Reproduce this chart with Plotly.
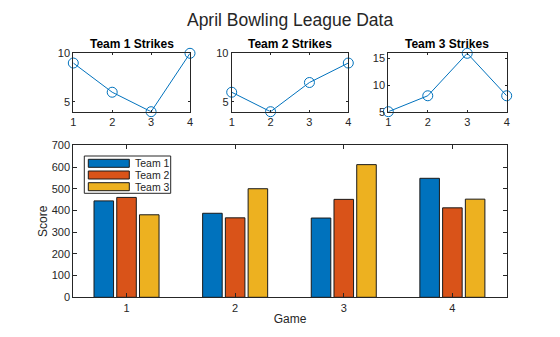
import plotly.graph_objects as go

# Bowling league data for April
games = [1, 2, 3, 4]
teams = ["Team 1", "Team 2", "Team 3"]
team1_scores = [444, 387, 365, 548]
team2_scores = [460, 366, 451, 412]
team3_scores = [380, 500, 611, 452]
team1_strikes = [9, 6, 4, 10]
team2_strikes = [6, 4, 7, 9]
team3_strikes = [5, 8, 16, 8]
score_ticks = [0, 100, 200, 300, 400, 500, 600, 700]

colors = ["#0072BD", "#D95319", "#EDB120"]
ink = "#262626"
font_family = "Liberation Sans, Arial, sans-serif"

W, H = 560, 337


def px_x(p):
    return p / W


def px_y(p):
    return 1 - p / H


fig = go.Figure()

# Strike line plots (top row)
strikes = [team1_strikes, team2_strikes, team3_strikes]
sub_x = [(73.3, 190.0), (231.7, 348.3), (388.3, 506.7)]
sub_y = (53.3, 111.7)
sub_yranges = [(4, 10), (4, 10), (5, 16)]
sub_yticks = [[5, 10], [5, 10], [5, 10, 15]]

axis_common = dict(
    showline=True, linecolor=ink, linewidth=1, mirror="allticks",
    ticks="inside", tickcolor=ink, showgrid=False, zeroline=False,
    automargin=False,
    tickfont=dict(size=11, color=ink, family=font_family),
)

for i, (name, s) in enumerate(zip(teams, strikes)):
    k = i + 2
    fig.add_trace(go.Scatter(
        x=games, y=s, mode="lines+markers",
        line=dict(color=colors[0], width=1),
        marker=dict(symbol="circle-open", size=10, color=colors[0], line=dict(width=1)),
        xaxis=f"x{k}", yaxis=f"y{k}", showlegend=False, cliponaxis=False,
    ))
    fig.layout[f"xaxis{k}"] = dict(
        axis_common, domain=[px_x(sub_x[i][0]), px_x(sub_x[i][1])],
        range=[1, 4], tickvals=games, ticklen=2, anchor=f"y{k}",
    )
    fig.layout[f"yaxis{k}"] = dict(
        axis_common, domain=[px_y(sub_y[1]), px_y(sub_y[0])],
        range=list(sub_yranges[i]), tickvals=sub_yticks[i], ticklen=2,
        anchor=f"x{k}",
    )
    fig.add_annotation(
        text=f"<b>{name} Strikes</b>", showarrow=False,
        x=(px_x(sub_x[i][0]) + px_x(sub_x[i][1])) / 2, y=px_y(sub_y[0]),
        xref="paper", yref="paper", xanchor="center", yanchor="bottom", yshift=0,
        font=dict(size=12, color="black", family=font_family),
    )

# Grouped bar chart of scores (bottom)
scores = [team1_scores, team2_scores, team3_scores]
for name, vals, c in zip(teams, scores, colors):
    fig.add_trace(go.Bar(
        x=games, y=vals, name=name, marker=dict(color=c, line=dict(color="#1a1a1a", width=1)),
        showlegend=False, xaxis="x", yaxis="y",
    ))

main_x = (73.3, 506.7)
main_y = (145.3, 297.3)
fig.layout.xaxis = dict(
    axis_common, domain=[px_x(main_x[0]), px_x(main_x[1])], range=[0.51, 4.5],
    tickvals=games, ticklen=4, anchor="y",
    title=dict(text="Game", font=dict(size=12, color=ink, family=font_family), standoff=2),
)
fig.layout.yaxis = dict(
    axis_common, domain=[px_y(main_y[1]), px_y(main_y[0])], range=[0, 700],
    tickvals=score_ticks, ticklen=4, anchor="x",
    title=dict(text="Score", font=dict(size=12, color=ink, family=font_family), standoff=1),
)

# Legend box inside the bar axes
lx0, ly0, lx1, ly1 = 84.3, 156.0, 170.7, 193.3
fig.add_shape(type="rect", xref="paper", yref="paper",
              x0=px_x(lx0), x1=px_x(lx1), y0=px_y(ly1), y1=px_y(ly0),
              line=dict(color=ink, width=1), fillcolor="white", layer="above")
for j, (name, c) in enumerate(zip(teams, colors)):
    cy = 163.3 + j * 11.7
    fig.add_shape(type="rect", xref="paper", yref="paper",
                  x0=px_x(88.3), x1=px_x(129.3), y0=px_y(cy + 4), y1=px_y(cy - 4),
                  line=dict(color="#1a1a1a", width=1), fillcolor=c, layer="above")
    fig.add_annotation(text=name, showarrow=False, xref="paper", yref="paper",
                       x=px_x(132.5), y=px_y(cy), xanchor="left", yanchor="middle",
                       font=dict(size=10.5, color=ink, family=font_family))

fig.update_layout(
    width=W, height=H, margin=dict(l=0, r=0, t=0, b=0),
    paper_bgcolor="white", plot_bgcolor="white",
    barmode="group", bargap=0.372, bargroupgap=0.14,
    title=dict(text="April Bowling League Data", x=0.518, xanchor="center",
               y=px_y(20), yanchor="middle",
               font=dict(size=17.5, color=ink, family=font_family)),
)

fig.write_html("out.html")
